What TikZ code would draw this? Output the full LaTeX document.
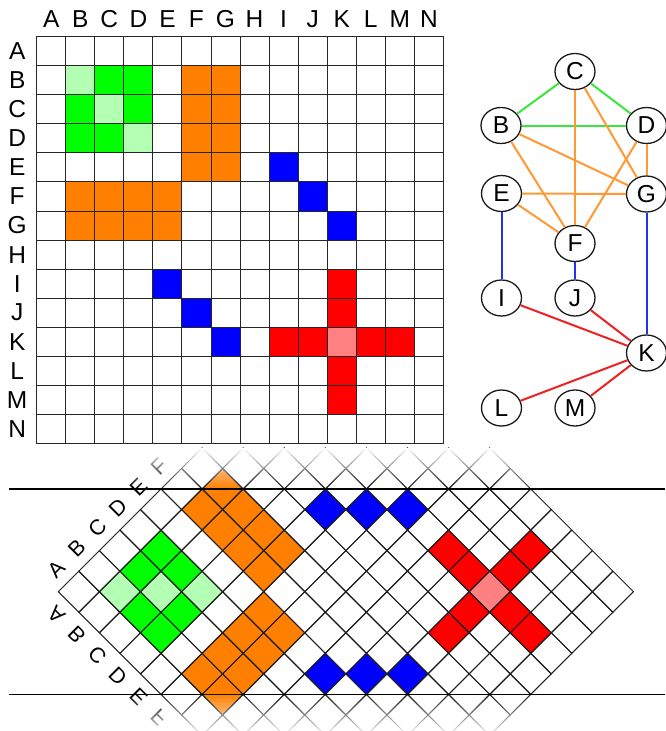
\documentclass[tikz,border=0pt]{standalone}
\usepackage{fontspec}
\setmainfont{Liberation Sans}
\usetikzlibrary{shapes.geometric}
\definecolor{mgreen}{HTML}{00FF00}
\definecolor{mlgreen}{HTML}{B3FFB3}
\definecolor{morange}{HTML}{FF8000}
\definecolor{mblue}{HTML}{0000FF}
\definecolor{mred}{HTML}{FF0000}
\definecolor{mlred}{HTML}{FF8080}
\definecolor{egreen}{HTML}{3CE63C}
\definecolor{eorange}{HTML}{FF9933}
\definecolor{eblue}{HTML}{2233EE}
\definecolor{ered}{HTML}{EE2222}
\newcommand\CS{29.05}
\newcommand\lbl{\fontsize{24.5}{26}\selectfont}
\newcommand\blbl{\fontsize{21.5}{23}\selectfont}
\newcommand\mcell[3]{\fill[#3] ({(#2-1)*\CS},{-(#1-1)*\CS}) rectangle ({#2*\CS},{-#1*\CS});}
\newcommand\matcells{%
  \mcell{2}{2}{mlgreen}\mcell{3}{3}{mlgreen}\mcell{4}{4}{mlgreen}%
  \mcell{2}{3}{mgreen}\mcell{2}{4}{mgreen}\mcell{3}{2}{mgreen}%
  \mcell{3}{4}{mgreen}\mcell{4}{2}{mgreen}\mcell{4}{3}{mgreen}%
  \foreach \r in {2,...,5}{\foreach \c in {6,7}{\mcell{\r}{\c}{morange}\mcell{\c}{\r}{morange}}}%
  \mcell{5}{9}{mblue}\mcell{6}{10}{mblue}\mcell{7}{11}{mblue}%
  \mcell{9}{5}{mblue}\mcell{10}{6}{mblue}\mcell{11}{7}{mblue}%
  \foreach \k in {9,10,12,13}{\mcell{\k}{11}{mred}\mcell{11}{\k}{mred}}%
  \mcell{11}{11}{mlred}%
}
\tikzset{
  gridl/.style={draw=black!85, line width=1pt, line cap=rect},
  bandl/.style={draw=black!88, line width=1pt},
  axlbl/.style={font=\lbl, inner sep=0pt},
  bndlbl/.style={font=\blbl, inner sep=0pt, transform shape},
  gnode/.style={ellipse, draw=black!90, line width=1.3pt, fill=white, minimum width=40pt, minimum height=36pt, inner sep=0pt, font=\lbl},
  eg/.style={draw=egreen, line width=2pt},
  eo/.style={draw=eorange, line width=2pt},
  eb/.style={draw=eblue, line width=2pt},
  er/.style={draw=ered, line width=2pt},
  hline/.style={draw=black, line width=1.6pt}
}
\begin{document}
\begin{tikzpicture}[x=1pt,y=1pt]
\useasboundingbox (0,0) rectangle (665,-731);
\fill[white] (0,0) rectangle (665,-731);
% ---------- top matrix ----------
\begin{scope}[shift={(36.7,-36.7)}]
  \matcells
  \foreach \i in {0,...,14}{
    \draw[gridl] ({\i*\CS},0) -- ({\i*\CS},{-14*\CS});
    \draw[gridl] (0,{-\i*\CS}) -- ({14*\CS},{-\i*\CS});
  }
  \foreach \L [count=\i] in {A,B,C,D,E,F,G,H,I,J,K,L,M,N}{
    \node[axlbl] (col\L) at ({(\i-0.5)*\CS},18) {\L};
    \node[axlbl] (row\L) at (-19.5,{-(\i-0.5)*\CS}) {\L};
  }
\end{scope}
% ---------- graph ----------
\node[gnode] (C) at (575,-71.5) {C};
\node[gnode] (B) at (501,-125.5) {B};
\node[gnode] (D) at (646.5,-125.5) {D};
\node[gnode] (E) at (501.5,-193.5) {E};
\node[gnode] (G) at (646.5,-194) {G};
\node[gnode] (F) at (575,-243.5) {F};
\node[gnode] (I) at (501.5,-298) {I};
\node[gnode] (J) at (575,-298) {J};
\node[gnode] (K) at (646.5,-353) {K};
\node[gnode] (L) at (501.5,-408) {L};
\node[gnode] (M) at (575,-408) {M};
\draw[eg] (C) -- (B);
\draw[eg] (C) -- (D);
\draw[eg] (B) -- (D);
\draw[eo] (C) -- (F);
\draw[eo] (C) -- (G);
\draw[eo] (B) -- (G);
\draw[eo] (B) -- (F);
\draw[eo] (D) -- (F);
\draw[eo] (D) -- (G);
\draw[eo] (E) -- (G);
\draw[eo] (E) -- (F);
\draw[eb] (E) -- (I);
\draw[eb] (F) -- (J);
\draw[eb] (G) -- (K);
\draw[er] (I) -- (K);
\draw[er] (J) -- (K);
\draw[er] (L) -- (K);
\draw[er] (M) -- (K);
% ---------- rotated band ----------
\begin{scope}[shift={(58.3,-591.7)}, rotate=45]
  \matcells
  \foreach \r in {1,...,14}{
    \foreach \c in {1,...,14}{
      \pgfmathtruncatemacro\dd{abs(\c-\r)}
      \ifnum\dd<7
        \draw[bandl] ({(\c-1)*\CS},{-(\r-1)*\CS}) rectangle ({\c*\CS},{-\r*\CS});
      \fi
    }
  }
  \foreach \L [count=\i] in {A,B,C,D,E,F}{
    \node[bndlbl] (up\L) at ({(\i-0.5)*\CS},{0.6*\CS}) {\L};
  }
\end{scope}
\begin{scope}[shift={(58.3,-591.7)}, yscale=-1, rotate=45]
  \foreach \L [count=\i] in {A,B,C,D,E,F}{
    \node[bndlbl] (lo\L) at ({(\i-0.5)*\CS},{0.6*\CS}) {\L};
  }
\end{scope}
% fading beyond the band lines
\foreach \k in {1,...,30}{
  \pgfmathsetmacro\op{1/(31-\k)}
  \pgfmathsetmacro\hh{(\k-0.5)*41.5/30}
  \fill[white, fill opacity=\op] (0,{-489+\hh}) rectangle (665,-447.5);
  \fill[white, fill opacity=\op] (0,{-694.4-\hh}) rectangle (665,-736);
}
\coordinate (tl) at (9,-489);
\coordinate (tr) at (665,-489);
\coordinate (bl) at (9,-694.4);
\coordinate (br) at (665,-694.4);
\draw[hline] (tl) -- (tr);
\draw[hline] (bl) -- (br);
\end{tikzpicture}
\end{document}
